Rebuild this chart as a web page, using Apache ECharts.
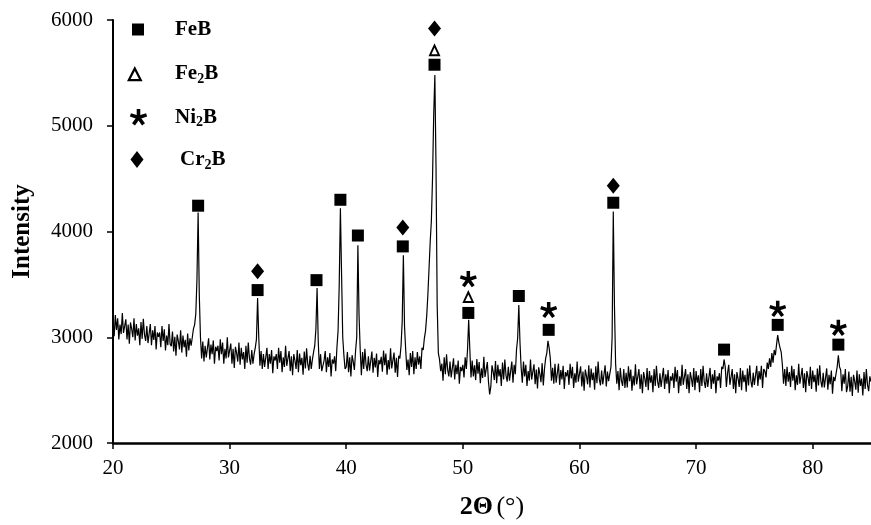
<!DOCTYPE html>
<html>
<head>
<meta charset="utf-8">
<script src="https://cdn.jsdelivr.net/npm/echarts@6/dist/echarts.min.js"></script>
<style>
html,body{margin:0;padding:0;background:#fff;}
#chart{width:871px;height:525px;}
</style>
</head>
<body>
<div id="chart"></div>
<script>
// XRD scan: 2θ from 20.0° in 0.1° steps, intensity
const scanStart = 20.0;
const scanStep = 0.1;
const intensity = [
3150,3010,3210,3070,3180,2980,3120,3030,3230,3040,
3030,3170,2980,3120,2940,3140,3080,3000,3180,2970,
3125,3015,3085,2925,3145,2985,3175,3025,2965,3105,
2945,3035,3125,2925,3065,2975,3105,2885,3045,3005,
3045,2905,3105,2965,3075,2875,3015,2925,3125,2935,
2915,3055,2865,3005,2825,3025,2965,2885,3065,2855,
3015,2905,2975,2815,3035,2875,2990,2920,3000,3080,
3120,3220,3550,4180,3400,3000,2800,2960,2770,2920,
2810,2900,2990,2790,2930,2840,2970,2750,2910,2870,
2920,2780,2980,2840,2950,2750,2890,2800,3000,2810,
2800,2940,2750,2890,2710,2910,2850,2770,2950,2740,
2900,2790,2860,2700,2920,2760,2950,2800,2740,2880,
2750,2840,2900,2980,3370,3000,2730,2870,2700,2840,
2720,2810,2900,2700,2840,2750,2880,2660,2820,2780,
2840,2700,2900,2760,2870,2670,2810,2720,2920,2730,
2730,2870,2680,2820,2640,2840,2780,2700,2880,2670,
2845,2735,2805,2645,2865,2705,2895,2745,2685,2825,
2700,2790,2860,2920,3080,3465,2960,2700,2840,2680,
2690,2780,2870,2670,2810,2720,2850,2630,2790,2750,
2820,2680,2900,3060,3500,4220,3600,3000,2830,2700,
2720,2860,2670,2810,2630,2830,2770,2690,2870,3000,
3870,3200,2880,2640,2860,2700,2890,2740,2680,2820,
2685,2775,2865,2665,2805,2715,2845,2625,2785,2745,
2815,2675,2875,2735,2845,2645,2785,2695,2895,2705,
2715,2855,2665,2805,2625,2825,2800,2920,3150,3775,
3100,2880,2690,2790,2640,2850,2720,2870,2650,2810,
2700,2860,2740,2820,2700,2900,2880,2990,3060,3200,
3400,3650,3900,4100,4500,5100,5480,4600,3300,2850,
2790,2680,2750,2590,2810,2650,2840,2690,2630,2770,
2620,2710,2800,2600,2740,2650,2780,2560,2720,2680,
2740,2620,2810,2700,2880,3165,2880,2620,2780,2630,
2735,2595,2795,2655,2765,2565,2705,2615,2815,2625,
2625,2765,2575,2460,2535,2735,2675,2595,2775,2565,
2740,2630,2700,2540,2760,2600,2790,2640,2580,2720,
2590,2680,2770,2570,2740,2650,2880,2990,3305,2950,
2710,2570,2770,2630,2740,2540,2680,2590,2790,2600,
2605,2745,2555,2695,2515,2715,2655,2575,2755,2545,
2700,2800,2850,2967,2900,2800,2590,2710,2560,2750,
2570,2660,2750,2550,2690,2600,2730,2510,2670,2630,
2690,2550,2750,2610,2720,2520,2660,2570,2770,2580,
2585,2725,2535,2675,2495,2695,2635,2555,2735,2525,
2705,2595,2665,2505,2725,2565,2770,2605,2545,2685,
2555,2645,2735,2535,2675,2585,2600,2720,3000,4188,
3300,2750,2560,2680,2500,2710,2590,2540,2700,2520,
2665,2525,2725,2585,2695,2495,2635,2545,2745,2555,
2560,2700,2510,2650,2470,2670,2610,2530,2710,2500,
2680,2570,2640,2480,2700,2540,2730,2580,2520,2660,
2530,2620,2710,2510,2650,2560,2690,2470,2630,2590,
2660,2520,2720,2580,2690,2470,2630,2540,2740,2550,
2560,2700,2510,2650,2470,2670,2610,2530,2710,2500,
2680,2570,2640,2480,2700,2540,2730,2580,2520,2660,
2530,2620,2710,2510,2650,2560,2690,2470,2630,2590,
2660,2520,2720,2700,2790,2720,2530,2660,2740,2550,
2560,2700,2510,2650,2470,2670,2610,2530,2710,2500,
2685,2575,2645,2485,2705,2545,2735,2585,2525,2665,
2550,2640,2730,2540,2680,2600,2730,2520,2700,2680,
2620,2760,2700,2800,2720,2850,2760,2880,2830,2930,
3020,2950,2900,2860,2740,2560,2700,2540,2720,2580,
2670,2530,2730,2590,2700,2500,2640,2550,2750,2560,
2570,2710,2520,2660,2480,2680,2620,2540,2720,2510,
2685,2575,2645,2485,2705,2545,2735,2585,2525,2665,
2525,2615,2705,2505,2645,2555,2685,2465,2625,2585,
2600,2720,2830,2720,2690,2490,2650,2560,2700,2480,
2535,2675,2485,2625,2445,2645,2585,2505,2685,2475,
2650,2540,2610,2450,2670,2510,2700,2550,2490,2630,
2580
];

// phase markers [2θ, position]
const feB  = [[27.3,4244],[32.4,3446],[37.45,3540],[39.5,4300],[41.0,3962],[44.85,3859],[47.57,5577],[50.47,3230],[54.8,3390],[57.36,3070],[62.9,4272],[72.4,2883],[77.0,3117],[82.2,2930]];
const fe2B = [[47.57,5718],[50.47,3385]];
const ni2B = [[50.47,3549],[57.36,3258],[77.0,3268],[82.2,3089]];
const cr2B = [[32.4,3624],[44.85,4037],[47.57,5920],[62.9,4432]];

const xTicks = {min: 20, max: 85, interval: 10};
const yTicks = {min: 2000, max: 6000, interval: 1000};

const pattern = intensity.map((v, i) => [+(scanStart + i * scanStep).toFixed(1), v]);

const deltaSym = 'path://M6,0L12,12L0,12ZM6,4.03L2.91,10.2L9.09,10.2Z';
const starSym = 'path://M2.1,0L2.1,-10L-2.1,-10L-2.1,0Z M0.649,1.997L10.16,-1.093L8.862,-5.087L-0.649,-1.997Z M-1.699,1.234L4.179,9.324L7.577,6.856L1.699,-1.234Z M-1.699,-1.234L-7.577,6.856L-4.179,9.324L1.699,1.234Z M0.649,-1.997L-8.862,-5.087L-10.16,-1.093L-0.649,1.997Z';

const FONT = '"Liberation Serif", "Times New Roman", serif';
const chart = echarts.init(document.getElementById('chart'), null, {renderer: 'canvas'});

const legendText = (t, x, y) => ({
  type: 'text', x: x, y: y, z: 10,
  style: {
    text: t, fill: '#000', fontFamily: FONT, fontSize: 21, fontWeight: 'bold',
    verticalAlign: 'middle', align: 'left',
    rich: {
      m: {fontFamily: FONT, fontSize: 21, fontWeight: 'bold', lineHeight: 24, verticalAlign: 'middle'},
      s: {fontFamily: FONT, fontSize: 14, fontWeight: 'bold', lineHeight: 14, verticalAlign: 'bottom'}
    }
  }
});

// legend star arms (centre 138.5,117.5)
const starC = [138.5, 117.5];
const starTips = [[138.5, 109], [146.6, 114.9], [143.5, 124.4], [133.5, 124.4], [130.4, 114.9]];
const starArms = starTips.map(t => ({
  type: 'line', z: 10,
  shape: {x1: starC[0], y1: starC[1], x2: t[0], y2: t[1]},
  style: {stroke: '#000', lineWidth: 3.6, lineCap: 'butt'}
}));

const mk = {color: '#000', opacity: 1};

chart.setOption({
  animation: false,
  backgroundColor: '#fff',
  grid: {left: 113, top: 20, width: 764, height: 426, containLabel: false},
  xAxis: {
    type: 'value', min: xTicks.min, max: xTicks.max, interval: xTicks.interval,
    name: '{b|2Θ} {r|(°)}', nameLocation: 'middle', nameGap: 51,
    nameTextStyle: {
      rich: {
        b: {fontFamily: FONT, fontSize: 26, fontWeight: 'bold', color: '#000'},
        r: {fontFamily: FONT, fontSize: 26, fontWeight: 'normal', color: '#000'}
      }
    },
    axisLine: {show: true, lineStyle: {color: '#000', width: 2.5}},
    axisTick: {show: true, inside: false, length: 6, lineStyle: {color: '#000', width: 1.5}},
    axisLabel: {show: true, margin: 15, color: '#000', fontFamily: FONT, fontSize: 21, showMaxLabel: false},
    splitLine: {show: false}
  },
  yAxis: {
    type: 'value', min: yTicks.min, max: yTicks.max, interval: yTicks.interval,
    name: 'Intensity', nameLocation: 'middle', nameGap: 78, nameRotate: 90,
    nameTextStyle: {fontFamily: FONT, fontSize: 25, fontWeight: 'bold', color: '#000'},
    axisLine: {show: true, lineStyle: {color: '#000', width: 2}},
    axisTick: {show: true, inside: false, length: 6, lineStyle: {color: '#000', width: 1.5}},
    axisLabel: {show: true, margin: 20, color: '#000', fontFamily: FONT, fontSize: 21,
                formatter: v => String(v)},
    splitLine: {show: false}
  },
  series: [
    {type: 'line', name: 'scan', data: pattern, showSymbol: false, symbol: 'none',
     lineStyle: {color: '#000', width: 1.2}, clip: true, z: 2},
    {type: 'scatter', name: 'FeB', data: feB, symbol: 'rect', symbolSize: 12, itemStyle: mk, z: 5},
    {type: 'scatter', name: 'Fe2B', data: fe2B, symbol: deltaSym, symbolSize: [12, 13], itemStyle: mk, z: 5},
    {type: 'scatter', name: 'Ni2B', data: ni2B, symbol: starSym, symbolSize: 17, symbolKeepAspect: true, itemStyle: mk, z: 5},
    {type: 'scatter', name: 'Cr2B', data: cr2B, symbol: 'diamond', symbolSize: [13, 16], itemStyle: mk, z: 5}
  ],
  graphic: [
    {type: 'rect', shape: {x: 132, y: 23.5, width: 12, height: 12}, style: {fill: '#000'}, z: 10},
    {type: 'polygon', shape: {points: [[134.8, 68.5], [140.8, 80.2], [128.8, 80.2]]},
     style: {fill: 'none', stroke: '#000', lineWidth: 2.2, lineJoin: 'miter'}, z: 10},
    ...starArms,
    {type: 'polygon', shape: {points: [[137, 151], [143.5, 159.5], [137, 168], [130.5, 159.5]]}, style: {fill: '#000'}, z: 10},
    legendText('{m|FeB}', 175, 29.5),
    legendText('{m|Fe}{s|2}{m|B}', 175, 74),
    legendText('{m|Ni}{s|2}{m|B}', 175, 117.5),
    legendText('{m|Cr}{s|2}{m|B}', 180, 160)
  ]
});
</script>
</body>
</html>
